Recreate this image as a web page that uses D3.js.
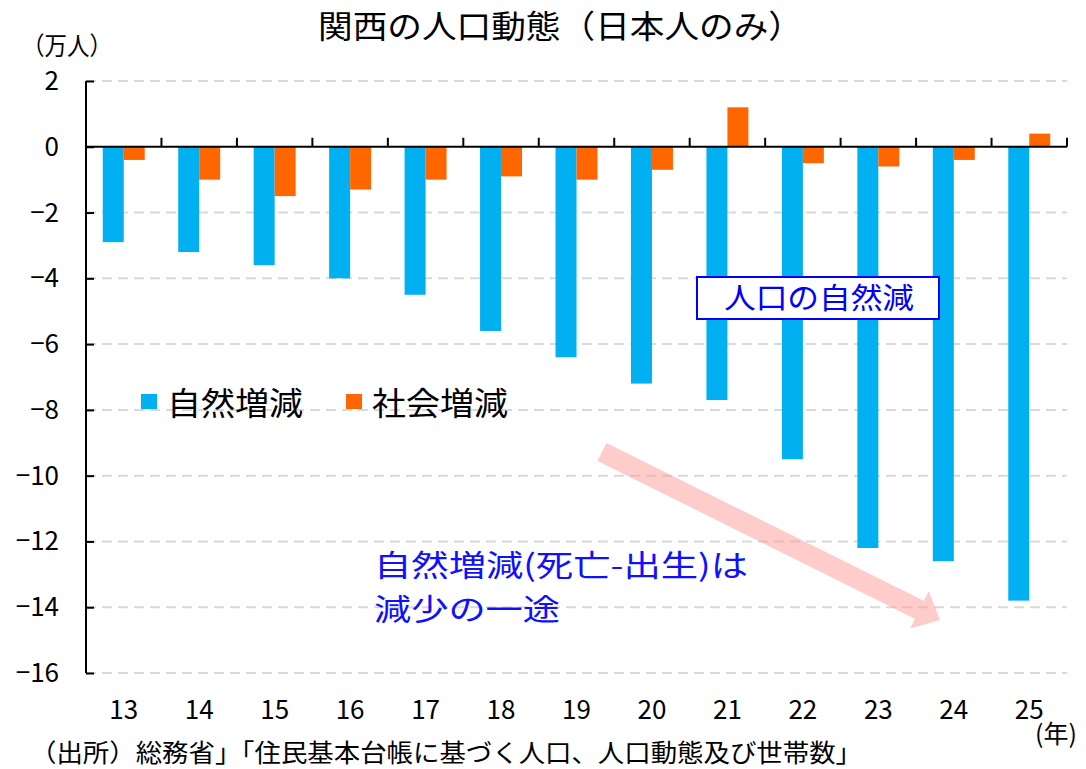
<!DOCTYPE html>
<html>
<head>
<meta charset="utf-8">
<script src="https://cdn.jsdelivr.net/npm/d3@7"></script>
<style>
  body { margin: 0; background: #fff; }
  text { font-family: "Noto Sans CJK JP", sans-serif; }
</style>
</head>
<body>
<script>
// years (平成)
const years = ['13', '14', '15', '16', '17', '18', '19', '20', '21', '22', '23', '24', '25'];
// 自然増減 (万人)
const natural = [-2.9, -3.2, -3.6, -4.0, -4.5, -5.6, -6.4, -7.2, -7.7, -9.5, -12.2, -12.6, -13.8];
// 社会増減 (万人)
const social = [-0.4, -1.0, -1.5, -1.3, -1.0, -0.9, -1.0, -0.7, 1.2, -0.5, -0.6, -0.4, 0.4];
const yTicks = [2, 0, -2, -4, -6, -8, -10, -12, -14, -16];
const seriesNames = ['自然増減', '社会増減'];
const colors = ['#00b0f0', '#ff6600'];

const w = 1086, h = 769;
const svg = d3.select('body').append('svg')
  .attr('width', w)
  .attr('height', h);

const x = d3.scaleBand().domain(years).range([86, 1067]);
const bw = x.bandwidth();
const xSub = d3.scaleBand().domain([0, 1]).range([bw * 0.222, bw * 0.778]);
const y = d3.scaleLinear().domain([-16, 2]).range([673, 81]);

// gridlines
svg.append('g').selectAll('line')
  .data(yTicks.filter(d => d !== 0))
  .enter().append('line')
  .attr('x1', 86).attr('x2', 1067)
  .attr('y1', d => y(d)).attr('y2', d => y(d))
  .attr('stroke', '#d9d9d9')
  .attr('stroke-width', 2)
  .attr('stroke-dasharray', '10,6');

// bars
const rows = years.map((yr, i) => [natural[i], social[i]]);
const groups = svg.append('g').selectAll('g')
  .data(rows)
  .enter().append('g')
  .attr('transform', (d, i) => `translate(${x(years[i])},0)`);
groups.selectAll('rect')
  .data(d => d)
  .enter().append('rect')
  .attr('x', (d, j) => xSub(j))
  .attr('width', xSub.bandwidth())
  .attr('y', d => y(Math.max(0, d)))
  .attr('height', d => Math.abs(y(d) - y(0)))
  .attr('fill', (d, j) => colors[j]);

// y axis
const yAxis = svg.append('g')
  .attr('transform', 'translate(86,0)')
  .call(d3.axisRight(y).tickValues(yTicks).tickSize(8).tickFormat(''));
yAxis.select('.domain').attr('stroke', '#000').attr('stroke-width', 2)
  .attr('d', `M0,${y(2)}V${y(-16)}`);
yAxis.selectAll('.tick line').attr('stroke', '#000').attr('stroke-width', 2);

svg.append('g').selectAll('text')
  .data(yTicks)
  .enter().append('text')
  .attr('x', 59)
  .attr('y', d => y(d) + 9)
  .attr('text-anchor', 'end')
  .attr('font-size', 26)
  .text(d => d < 0 ? '−' + Math.abs(d) : d);

// zero line + category ticks
svg.append('line')
  .attr('x1', 86).attr('x2', 1067)
  .attr('y1', y(0)).attr('y2', y(0))
  .attr('stroke', '#000').attr('stroke-width', 2);
svg.append('g').selectAll('line')
  .data(years)
  .enter().append('line')
  .attr('x1', d => x(d) + bw).attr('x2', d => x(d) + bw)
  .attr('y1', y(0)).attr('y2', y(0) - 9)
  .attr('stroke', '#000').attr('stroke-width', 2);

// x labels
svg.append('g').selectAll('text')
  .data(years)
  .enter().append('text')
  .attr('x', d => x(d) + bw / 2)
  .attr('y', 719)
  .attr('text-anchor', 'middle')
  .attr('font-size', 26)
  .text(d => d);

svg.append('text').attr('x', 1056).attr('y', 743)
  .attr('text-anchor', 'middle').attr('font-size', 25).text('(年)');

// title & units
svg.append('text').attr('x', 318).attr('y', 38)
  .attr('font-size', 32)
  .attr('textLength', 485).attr('lengthAdjust', 'spacingAndGlyphs')
  .text('関西の人口動態（日本人のみ）');
svg.append('text').attr('x', 22).attr('y', 55)
  .attr('font-size', 25)
  .attr('textLength', 90).attr('lengthAdjust', 'spacingAndGlyphs')
  .text('（万人）');

// legend
const legX = [141, 346];
const leg = svg.append('g').selectAll('g')
  .data(seriesNames)
  .enter().append('g')
  .attr('transform', (d, i) => `translate(${legX[i]},394)`);
leg.append('rect').attr('width', 16).attr('height', 15)
  .attr('fill', (d, i) => colors[i]);
leg.append('text').attr('x', 26).attr('y', 21)
  .attr('font-size', 32)
  .attr('textLength', 136).attr('lengthAdjust', 'spacingAndGlyphs')
  .text(d => d);

// pink arrow
const a0 = [602, 452], a1 = [940, 620];
const dx = a1[0] - a0[0], dy = a1[1] - a0[1];
const len = Math.hypot(dx, dy);
const ux = dx / len, uy = dy / len, px = -uy, py = ux;
const sw = 10, hw = 21, hl = 23;
const bx = a1[0] - ux * hl, by = a1[1] - uy * hl;
const pts = [
  [a0[0] + px * sw, a0[1] + py * sw],
  [bx + px * sw, by + py * sw],
  [bx + px * hw, by + py * hw],
  a1,
  [bx - px * hw, by - py * hw],
  [bx - px * sw, by - py * sw],
  [a0[0] - px * sw, a0[1] - py * sw]
];
svg.append('polygon')
  .attr('points', pts.map(p => p.join(',')).join(' '))
  .attr('fill', '#ff9a9a')
  .attr('opacity', 0.5);

// annotation box
svg.append('rect').attr('x', 697).attr('y', 277)
  .attr('width', 242).attr('height', 42)
  .attr('fill', '#fff').attr('stroke', '#0000ff').attr('stroke-width', 2);
svg.append('text').attr('x', 724).attr('y', 309)
  .attr('font-size', 29)
  .attr('textLength', 190).attr('lengthAdjust', 'spacingAndGlyphs')
  .attr('fill', '#0000ff')
  .text('人口の自然減');

// comment text
svg.append('text').attr('x', 374).attr('y', 576)
  .attr('font-size', 30).attr('fill', '#1010ff')
  .attr('textLength', 374).attr('lengthAdjust', 'spacingAndGlyphs')
  .text('自然増減(死亡-出生)は');
svg.append('text').attr('x', 374).attr('y', 620)
  .attr('font-size', 30).attr('fill', '#1010ff')
  .attr('textLength', 186).attr('lengthAdjust', 'spacingAndGlyphs')
  .text('減少の一途');

// source
svg.append('text').attr('x', 30).attr('y', 762)
  .attr('font-size', 25)
  .attr('textLength', 832).attr('lengthAdjust', 'spacingAndGlyphs')
  .text('（出所）総務省」「住民基本台帳に基づく人口、人口動態及び世帯数」');
</script>
</body>
</html>
